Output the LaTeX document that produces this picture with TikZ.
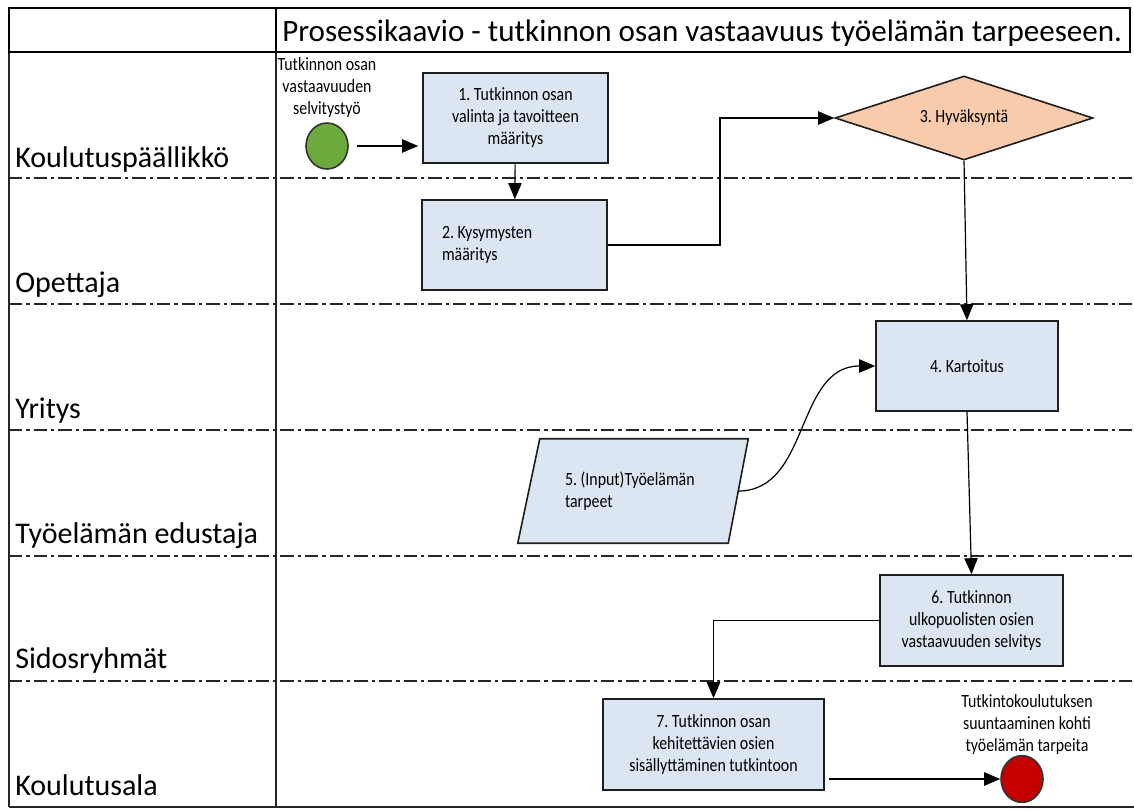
\documentclass[tikz,border=0pt]{standalone}
\usepackage{fontspec}
\setmainfont{Carlito}
\newfontfamily\boxfont[FakeStretch=0.85]{Carlito}
\usetikzlibrary{shapes.geometric,arrows.meta,calc}
\definecolor{boxblue}{RGB}{220,230,242}
\definecolor{peach}{RGB}{248,203,173}
\definecolor{startgreen}{RGB}{108,170,62}
\definecolor{endred}{RGB}{196,0,0}
\definecolor{edge}{RGB}{30,30,30}
\frenchspacing
\begin{document}
\begin{tikzpicture}[x=0.75pt,y=-0.75pt,
  lane/.style={line width=1.2pt, dash pattern=on 10pt off 3pt on 2.5pt off 3pt, draw=black!85},
  frame/.style={line width=1.3pt, draw=black!85},
  lanelabel/.style={anchor=base west, font=\fontsize{22.5}{26}\selectfont, inner sep=0},
  boxtext/.style={font=\boxfont\fontsize{14}{16.5}\selectfont},
  proc/.style={boxtext, draw=edge, line width=1.2pt, fill=boxblue, inner sep=0, align=center},
  smalltext/.style={boxtext, align=center, inner sep=0},
  arr/.style={-{Triangle[length=12pt,width=10pt]}, line width=0.9pt, draw=black},
]
\useasboundingbox (0,0) rectangle (1134,810);

% frame and lanes
\draw[frame] (9,52) -- (9,807);
\draw[frame] (276,52) -- (276,807);
\draw[line width=2pt, draw=black!85] (9,807) -- (1134,807);
\foreach \yy in {178,304,430,556,681}
  \draw[lane] (9,\yy) -- (1134,\yy);
\draw[line width=2.2pt] (9,8) rectangle (1130,52);
\draw[line width=1.5pt] (276,8) -- (276,52);

\node[anchor=base west, font=\fontsize{23.3}{28}\selectfont, inner sep=0] (title) at (282,41)
  {Prosessikaavio - tutkinnon osan vastaavuus työelämän tarpeeseen.};

\node[lanelabel] (l1) at (15,167) {Koulutuspäällikkö};
\node[lanelabel] (l2) at (15,292) {Opettaja};
\node[lanelabel] (l3) at (15,418) {Yritys};
\node[lanelabel] (l4) at (15,543) {Työelämän edustaja};
\node[lanelabel] (l5) at (15,668) {Sidosryhmät};
\node[lanelabel] (l6) at (15,795) {Koulutusala};

% nodes
\node[ellipse, draw=black!80, line width=1.2pt, fill=startgreen, minimum width=31.5pt, minimum height=34.5pt, inner sep=0] (s) at (327,146) {};
\node[smalltext] (slabel) at (327,88) {Tutkinnon osan\\vastaavuuden\\selvitystyö};

\node[proc, minimum width=138.75pt, minimum height=67.5pt] (b1) at (515.5,118)
  {1. Tutkinnon osan\\valinta ja tavoitteen\\määritys};
\node[proc, minimum width=138.75pt, minimum height=67.5pt, align=flush left, text width=108.75pt] (b2) at (514.5,245)
  {2. Kysymysten\\määritys};
\node[diamond, aspect=3, draw=edge, line width=1.2pt, fill=peach, inner sep=0, minimum width=193.5pt, minimum height=63pt,
  boxtext] (d3) at (964,118) {3. Hyväksyntä};
\node[proc, minimum width=136.5pt, minimum height=67.5pt] (b4) at (967,366) {4. Kartoitus};
\node[boxtext, minimum width=156.75pt, minimum height=78pt, inner sep=0] (b5) at (633.5,491) {};
\draw[draw=edge, line width=1.2pt, fill=boxblue]
  ([xshift=8.25pt]b5.north west) -- ([xshift=7.5pt]b5.north east)
  -- ([xshift=-7.5pt]b5.south east) -- ([xshift=-8.25pt]b5.south west) -- cycle;
\node[boxtext, align=flush left, text width=102.75pt, inner sep=0] (b5text) at (b5) {5. (Input)Työelämän\\tarpeet};
\node[proc, minimum width=137.25pt, minimum height=68.25pt] (b6) at (971.5,620.5)
  {6. Tutkinnon\\ulkopuolisten osien\\vastaavuuden selvitys};
\node[proc, minimum width=165.75pt, minimum height=68.25pt] (b7) at (713.5,744.5)
  {7. Tutkinnon osan\\kehitettävien osien\\sisällyttäminen tutkintoon};
\node[ellipse, draw=black!80, line width=1.2pt, fill=endred, minimum width=31.5pt, minimum height=35pt, inner sep=0] (e) at (1022,779) {};
\node[smalltext] (elabel) at (1027,725) {Tutkintokoulutuksen\\suuntaaminen kohti\\työelämän tarpeita};

% connectors
\coordinate (k1) at (720,0);
\draw[arr, shorten <=6pt, shorten >=3pt] (s.east) -- (s.east -| b1.west);
\draw[arr] (b1) -- (b2);
\draw[arr] (b2.east) -- (b2.east -| k1) -- (k1 |- d3.west) -- (d3.west);
\draw[arr] (d3.south) -- (b4.north);
\draw[arr] (b5.east) .. controls +(72,0) and +(-80,0) .. (b4.west);
\draw[arr] (b4.south) -- (b6.north);
\draw[arr] (b6.west) -| (b7.north);
\draw[arr, shorten <=3pt] (e.west -| b7.east) -- (e.west);
\end{tikzpicture}
\end{document}
